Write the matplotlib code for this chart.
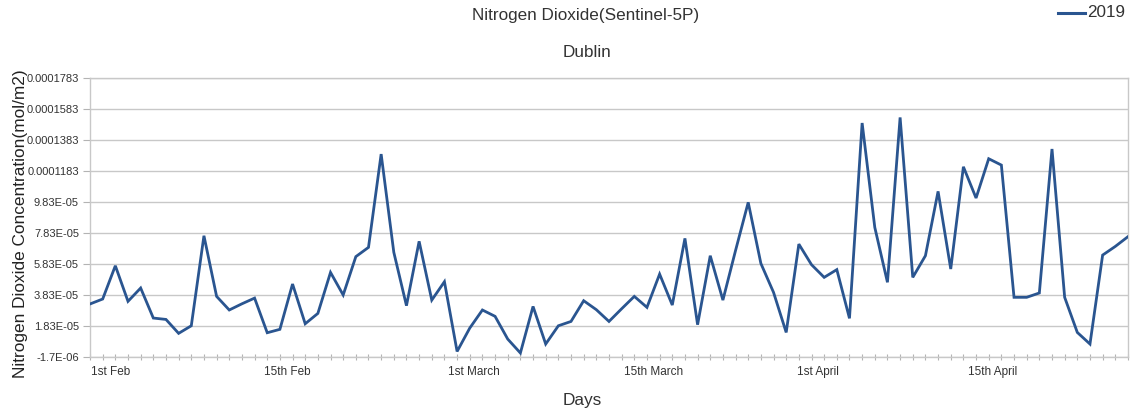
import matplotlib
matplotlib.use("Agg")
import matplotlib.pyplot as plt
from matplotlib.lines import Line2D

# NO2 column values (units of 1e-5 mol/m2), one per day/category
values_e5 = [3.24, 3.56, 5.71, 3.41, 4.27, 2.33, 2.24, 1.34, 1.83, 7.65,
             3.73, 2.85, 3.25, 3.62, 1.38, 1.60, 4.53, 1.96, 2.63, 5.28,
             3.82, 6.30, 6.90, 12.93, 6.58, 3.13, 7.29, 3.49, 4.68, 0.17,
             1.68, 2.85, 2.44, 0.97, 0.07, 3.08, 0.65, 1.83, 2.11, 3.45,
             2.87, 2.11, 2.93, 3.73, 3.02, 5.17, 3.17, 7.48, 1.90, 6.36,
             3.49, 6.70, 9.81, 5.86, 3.99, 1.40, 7.11, 5.78, 4.96, 5.46,
             2.31, 14.94, 8.19, 4.64, 15.30, 4.96, 6.36, 10.52, 5.50, 12.11,
             10.09, 12.63, 12.22, 3.67, 3.67, 3.95, 13.26, 3.67, 1.40, 0.65,
             6.40, 6.96, 7.59]
values = [v * 1e-5 for v in values_e5]

x_tick_labels = ["1st Feb", "15th Feb", "1st March", "15th March", "1st April", "15th April"]
x_tick_pos = [1.6, 15.6, 30.3, 44.5, 57.5, 71.3]

y_ticks = [-1.7e-06 + 2e-05 * k for k in range(10)]
y_tick_labels = ["-1.7E-06", "1.83E-05", "3.83E-05", "5.83E-05", "7.83E-05",
                 "9.83E-05", "0.0001183", "0.0001383", "0.0001583", "0.0001783"]

series_name = "2019"

plt.rcParams['font.family'] = ['Liberation Sans', 'DejaVu Sans']

LINE_COLOR = '#2a5590'
TEXT_COLOR = '#333333'

fig = plt.figure(figsize=(11.31, 4.13), dpi=100)
ax = fig.add_axes([0.0796, 0.1363, 0.9177, 0.6741])

x = list(range(len(values)))
ax.plot(x, values, color=LINE_COLOR, linewidth=2.0, solid_joinstyle='miter', zorder=3)

ax.set_xlim(0, len(values) - 1)
ax.set_ylim(y_ticks[0], y_ticks[-1])
ax.set_yticks(y_ticks)
ax.set_yticklabels(y_tick_labels, fontsize=8.0, color=TEXT_COLOR)
ax.set_xticks(x, minor=True)
ax.set_xticks(x_tick_pos)
ax.set_xticklabels(x_tick_labels, fontsize=8.5, color=TEXT_COLOR)
ax.tick_params(axis='x', which='major', length=0, pad=7)
ax.tick_params(axis='x', which='minor', length=4, direction='inout', color='#b3b3b3', width=0.8)
ax.tick_params(axis='y', which='major', length=5, direction='out', color='#b3b3b3', width=0.8, pad=3)

ax.grid(axis='y', color='#c8c8c8', linewidth=1.0, zorder=0)
for s in ax.spines.values():
    s.set_color('#c8c8c8')
    s.set_linewidth(1.0)

ax.set_xlabel("Days", fontsize=12.4, color=TEXT_COLOR)
ax.xaxis.set_label_coords(0.474, -0.13)
ax.set_ylabel("Nitrogen Dioxide Concentration(mol/m2)", fontsize=12.4, color='#222222')
ax.yaxis.set_label_coords(-0.0595, 0.477)

fig.text(0.518, 0.963, "Nitrogen Dioxide(Sentinel-5P)", ha='center', va='center', fontsize=12.3, color=TEXT_COLOR)
fig.text(0.519, 0.872, "Dublin", ha='center', va='center', fontsize=12.3, color=TEXT_COLOR)

# legend (drawn in figure coordinates)
fig.add_artist(Line2D([1058 / 1131, 1085 / 1131], [1 - 12.5 / 413, 1 - 12.5 / 413],
                      color=LINE_COLOR, linewidth=2.2, transform=fig.transFigure))
fig.text(1087 / 1131, 1 - 12.5 / 413, series_name, ha='left', va='center', fontsize=12.3, color=TEXT_COLOR)

fig.savefig("out.png", dpi=100)
